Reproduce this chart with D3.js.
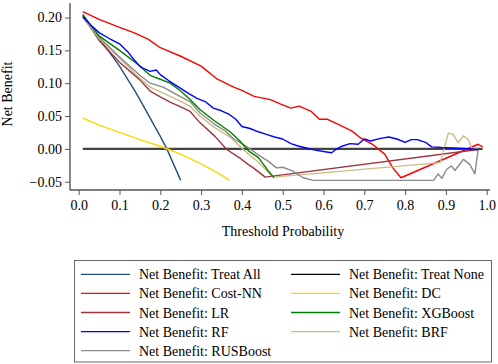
<!DOCTYPE html>
<html>
<head>
<meta charset="utf-8">
<script src="https://cdn.jsdelivr.net/npm/d3@7"></script>
<style>
  body { margin: 0; background: #fff; }
  svg { display: block; font-family: "Liberation Serif", "Times New Roman", serif; }
</style>
</head>
<body>
<svg id="chart"></svg>
<script>
const W = 498, H = 364;

// threshold probabilities and net benefit
const treatAll = [[0.01,0.201],[0.05,0.168],[0.085,0.139],[0.1,0.126],[0.138,0.088],[0.15,0.075],[0.2,0.019],[0.216,0],[0.25,-0.048]];
const treatNone = [[0.01,0],[0.99,0]];
const costNN = [[0.01,0.209],[0.05,0.197],[0.1,0.185],[0.135,0.177],[0.17,0.167],[0.2,0.154],[0.25,0.141],[0.3,0.126],[0.34,0.106],[0.38,0.094],[0.4,0.089],[0.43,0.08],[0.47,0.075],[0.495,0.068],[0.52,0.062],[0.54,0.065],[0.57,0.057],[0.59,0.045],[0.61,0.045],[0.64,0.036],[0.67,0.027],[0.69,0.017],[0.72,0.007],[0.75,-0.008],[0.77,-0.029],[0.79,-0.044],[0.979,0.007],[0.99,0.003]];
const dc = [[0.01,0.047],[0.05,0.036],[0.1,0.025],[0.15,0.014],[0.2,0.004],[0.25,-0.008],[0.3,-0.023],[0.35,-0.04],[0.37,-0.048]];
const lr = [[0.01,0.203],[0.05,0.165],[0.1,0.132],[0.15,0.105],[0.175,0.088],[0.2,0.079],[0.224,0.071],[0.25,0.064],[0.273,0.057],[0.297,0.04],[0.334,0.019],[0.363,-0.001],[0.395,-0.014],[0.416,-0.024],[0.428,-0.029],[0.457,-0.043],[0.979,-0.001]];
const xgb = [[0.01,0.204],[0.05,0.172],[0.1,0.15],[0.142,0.13],[0.175,0.112],[0.2,0.106],[0.224,0.1],[0.25,0.088],[0.273,0.075],[0.297,0.06],[0.334,0.042],[0.371,0.026],[0.395,0.012],[0.416,-0.003],[0.44,-0.013],[0.465,-0.034],[0.479,-0.044]];
const rf = [[0.01,0.201],[0.03,0.188],[0.05,0.177],[0.075,0.168],[0.1,0.16],[0.12,0.148],[0.135,0.136],[0.15,0.126],[0.16,0.122],[0.175,0.118],[0.19,0.12],[0.2,0.113],[0.22,0.104],[0.25,0.092],[0.27,0.084],[0.29,0.077],[0.31,0.072],[0.33,0.062],[0.35,0.058],[0.37,0.052],[0.385,0.045],[0.4,0.034],[0.42,0.031],[0.44,0.026],[0.46,0.022],[0.48,0.018],[0.5,0.015],[0.52,0.008],[0.54,0.004],[0.56,0.001],[0.58,-0.002],[0.6,-0.004],[0.62,-0.006],[0.63,-0.001],[0.645,0.004],[0.665,0.008],[0.685,0.007],[0.7,0.015],[0.715,0.012],[0.74,0.016],[0.76,0.018],[0.78,0.015],[0.8,0.01],[0.815,0.014],[0.83,0.014],[0.85,0.01],[0.865,0.003],[0.89,0.002],[0.93,0.001],[0.98,-0.001]];
const brf = [[0.01,0.202],[0.05,0.168],[0.1,0.138],[0.142,0.112],[0.175,0.094],[0.207,0.085],[0.248,0.073],[0.273,0.065],[0.297,0.05],[0.334,0.032],[0.371,0.018],[0.395,0.004],[0.416,-0.008],[0.44,-0.02],[0.465,-0.036],[0.477,-0.043],[0.886,-0.021],[0.906,0.024],[0.918,0.022],[0.93,0.009],[0.943,0.02],[0.955,0.014],[0.963,0.0015],[0.979,0]];
const rusboost = [[0.01,0.205],[0.05,0.17],[0.1,0.14],[0.15,0.112],[0.175,0.1],[0.207,0.094],[0.248,0.08],[0.273,0.072],[0.297,0.055],[0.334,0.037],[0.36,0.027],[0.38,0.015],[0.4,0.008],[0.42,0],[0.44,-0.009],[0.465,-0.019],[0.485,-0.029],[0.5,-0.028],[0.525,-0.034],[0.55,-0.044],[0.575,-0.048],[0.87,-0.048],[0.881,-0.038],[0.89,-0.045],[0.902,-0.031],[0.914,-0.026],[0.922,-0.033],[0.943,-0.016],[0.959,-0.024],[0.971,-0.038],[0.979,-0.001]];

const xTicks = [0, 0.1, 0.2, 0.3, 0.4, 0.5, 0.6, 0.7, 0.8, 0.9, 1.0];
const yTicks = [-0.05, 0, 0.05, 0.10, 0.15, 0.20];

const series = [
  { name: "Net Benefit: Treat All", data: treatAll, color: "#24507e", w: 1.4 },
  { name: "Net Benefit: Treat None", data: treatNone, color: "#000000", w: 1.4 },
  { name: "Net Benefit: Cost-NN", data: costNN, color: "#ff0000", w: 1.4 },
  { name: "Net Benefit: DC", data: dc, color: "#ffd700", w: 1.4 },
  { name: "Net Benefit: LR", data: lr, color: "#9c3440", w: 1.4 },
  { name: "Net Benefit: XGBoost", data: xgb, color: "#008000", w: 1.4 },
  { name: "Net Benefit: RF", data: rf, color: "#0000ff", w: 1.4 },
  { name: "Net Benefit: BRF", data: brf, color: "#cbbd85", w: 1.4 },
  { name: "Net Benefit: RUSBoost", data: rusboost, color: "#8a8a8a", w: 1.4 }
];

const svg = d3.select("#chart").attr("width", W).attr("height", H);

const x = d3.scaleLinear().domain([0, 1]).range([78.7, 486.7]);
const y = d3.scaleLinear().domain([-0.05, 0.2]).range([181.7, 17.5]);
const axisColor = "#555";

// x axis
const gx = svg.append("g")
  .attr("transform", "translate(0,190)")
  .call(d3.axisBottom(x).tickValues(xTicks).tickFormat(d3.format(".1f")).tickSize(5).tickPadding(5));
gx.select(".domain").remove();
gx.append("line").attr("x1", 70).attr("x2", 490).attr("stroke", axisColor).attr("stroke-width", 1.4);
gx.selectAll(".tick line").attr("stroke", axisColor);
gx.selectAll(".tick text").attr("fill", "#000").attr("font-size", 14).attr("font-family", "Liberation Serif");

// y axis
const gy = svg.append("g")
  .attr("transform", "translate(70,0)")
  .call(d3.axisLeft(y).tickValues(yTicks).tickFormat(d3.format(".2f")).tickSize(5).tickPadding(3));
gy.select(".domain").remove();
gy.append("line").attr("y1", 3).attr("y2", 190).attr("stroke", axisColor).attr("stroke-width", 1.4);
gy.selectAll(".tick line").attr("stroke", axisColor);
gy.selectAll(".tick text").attr("fill", "#000").attr("font-size", 14).attr("font-family", "Liberation Serif");

svg.append("text")
  .attr("x", 283).attr("y", 236)
  .attr("text-anchor", "middle").attr("font-size", 14)
  .text("Threshold Probability");

svg.append("text")
  .attr("transform", "translate(12,94) rotate(-90)")
  .attr("text-anchor", "middle").attr("font-size", 14)
  .text("Net Benefit");

const line = d3.line().x(d => x(d[0])).y(d => y(d[1]));

// draw order: treat none under the model curves
const drawOrder = [1, 0, 3, 2, 4, 7, 8, 5, 6];
drawOrder.forEach(i => {
  const s = series[i];
  svg.append("path")
    .datum(s.data)
    .attr("fill", "none")
    .attr("stroke", i === 1 ? "#444" : s.color)
    .attr("stroke-width", i === 1 ? 2.4 : s.w)
    .attr("stroke-linejoin", "round")
    .attr("d", line);
});

// legend
const legend = svg.append("g");
legend.append("rect")
  .attr("x", 74.5).attr("y", 260.5).attr("width", 417).attr("height", 101.5)
  .attr("fill", "none").attr("stroke", "#666").attr("stroke-width", 1);

series.forEach((s, i) => {
  const col = i % 2, row = Math.floor(i / 2);
  const lx = col === 0 ? 81 : 291;
  const ly = 274.3 + row * 19.1;
  legend.append("line")
    .attr("x1", lx).attr("x2", lx + 49).attr("y1", ly).attr("y2", ly)
    .attr("stroke", s.color).attr("stroke-width", 1.3);
  legend.append("text")
    .attr("x", lx + 58).attr("y", ly + 5)
    .attr("font-size", 14)
    .text(s.name);
});
</script>
</body>
</html>
